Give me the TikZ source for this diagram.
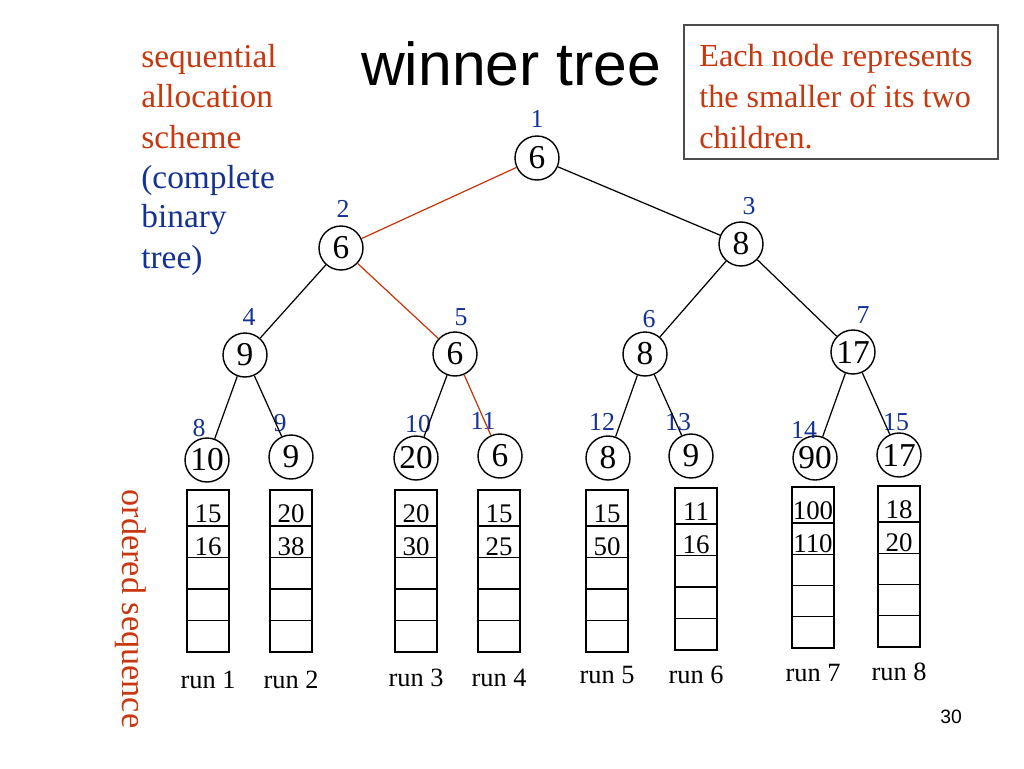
\documentclass[tikz,border=0pt]{standalone}
\usepackage{fontspec}
\setmainfont{Liberation Serif}
\setsansfont{Liberation Sans}
\usepackage{xcolor}
\usepackage{tikz}
\usetikzlibrary{calc}

\definecolor{rust}{RGB}{200,55,15}
\definecolor{navy}{RGB}{20,50,150}

\begin{document}
\begin{tikzpicture}[x=0.02cm,y=-0.02cm,
  tnode/.style={circle,draw,line width=0.8pt,minimum size=0.88cm,inner sep=0pt,font=\fontsize{19}{20}\selectfont},
  idx/.style={navy,inner sep=0pt,font=\fontsize{14.7}{16}\selectfont},
  edge/.style={line width=0.7pt},
  hot/.style={line width=0.7pt,rust},
  cellnum/.style={anchor=base,inner sep=0pt,font=\fontsize{15.3}{17}\selectfont},
  runlab/.style={anchor=base,inner sep=0pt,font=\fontsize{15}{17}\selectfont},
  side/.style={anchor=base west,inner sep=0pt,font=\fontsize{19}{22}\selectfont},
  notetext/.style={anchor=base west,inner sep=0pt,rust,font=\fontsize{18.3}{22}\selectfont}]

\fill[white] (0,0) rectangle (1024,768);
\useasboundingbox (0,0) rectangle (1024,768);

% Title and notes
\node[anchor=base,inner sep=0pt,font=\sffamily\fontsize{34.5}{40}\selectfont] (title) at (511,85) {winner tree};
\node[draw=black!70,line width=0.8pt,minimum width=6.28cm,minimum height=2.68cm,inner sep=0pt] (note) at (841,92) {};
\node[notetext] (note1) at (699,66) {Each node represents};
\node[notetext] (note2) at (699,107) {the smaller of its two};
\node[notetext] (note3) at (699,148) {children.};

\node[side,rust] (s1) at (141,67) {sequential};
\node[side,rust] (s2) at (141,107) {allocation};
\node[side,rust] (s3) at (141,148) {scheme};
\node[side,navy] (s4) at (141,188) {(complete};
\node[side,navy] (s5) at (141,227) {binary};
\node[side,navy] (s6) at (141,268) {tree)};

\node[rust,rotate=-90,inner sep=0pt,font=\fontsize{19.5}{22}\selectfont] (ord) at (131,609) {ordered sequence};
\node[inner sep=0pt,font=\sffamily\fontsize{11}{12}\selectfont] (page) at (951,717) {30};

% Tree nodes
\node[tnode] (n1) at (537,158) {6};
\node[tnode] (n2) at (341,248) {6};
\node[tnode] (n3) at (741,244) {8};
\node[tnode] (n4) at (245,355) {9};
\node[tnode] (n5) at (455,354) {6};
\node[tnode] (n6) at (645,354) {8};
\node[tnode] (n7) at (853,352) {17};
\node[tnode] (n8) at (207,460) {10};
\node[tnode] (n9) at (291,457) {9};
\node[tnode] (n10) at (416,458) {20};
\node[tnode] (n11) at (500,456) {6};
\node[tnode] (n12) at (608,458) {8};
\node[tnode] (n13) at (691,456) {9};
\node[tnode] (n14) at (815,458) {90};
\node[tnode] (n15) at (899,455) {17};

% Node numbers
\node[idx] (i1) at (537,119) {1};
\node[idx] (i2) at (343,209) {2};
\node[idx] (i3) at (749,206) {3};
\node[idx] (i4) at (249,317) {4};
\node[idx] (i5) at (461,317) {5};
\node[idx] (i6) at (649,319) {6};
\node[idx] (i7) at (863,315) {7};
\node[idx] (i8) at (199,428) {8};
\node[idx] (i9) at (280,423) {9};
\node[idx] (i10) at (418,424) {10};
\node[idx] (i11) at (483,421) {11};
\node[idx] (i12) at (602,422) {12};
\node[idx] (i13) at (678,422) {13};
\node[idx] (i14) at (804,430) {14};
\node[idx] (i15) at (896,422) {15};

% Edges
\draw[hot] (n1) -- (n2);
\draw[edge] (n1) -- (n3);
\draw[edge] (n2) -- (n4);
\draw[hot] (n2) -- (n5);
\draw[edge] (n3) -- (n6);
\draw[edge] (n3) -- (n7);
\draw[edge] (n4) -- (n8);
\draw[edge] (n4) -- (n9);
\draw[edge] (n5) -- (n10);
\draw[hot] (n5) -- (n11);
\draw[edge] (n6) -- (n12);
\draw[edge] (n6) -- (n13);
\draw[edge] (n7) -- (n14);
\draw[edge] (n7) -- (n15);

% Runs
\foreach \xa/\ya/\yb/\va/\vb/\n/\yl in {187/490/652/15/16/1/688, 270/490/652/20/38/2/688,
    395/490/652/20/30/3/686, 478/490/652/15/25/4/686, 586/490/652/15/50/5/683,
    675/488/650/11/16/6/683, 792/487/648/100/110/7/681, 878/486/647/18/20/8/680} {
  \pgfmathsetmacro\h{(\yb-\ya-36)/4}
  \draw[line width=0.8pt] (\xa,\ya) rectangle ({\xa+42},\yb);
  \foreach \k in {0,...,3}
    \draw[line width=0.8pt] (\xa,{\ya+36+\k*\h}) -- ++(42,0);
  \node[cellnum] (a\n) at ({\xa+21},{\ya+32}) {\va};
  \node[cellnum] (b\n) at ({\xa+21},{\ya+34+\h}) {\vb};
  \node[runlab] (r\n) at ({\xa+21},\yl) {run \n};
}

\end{tikzpicture}
\end{document}
